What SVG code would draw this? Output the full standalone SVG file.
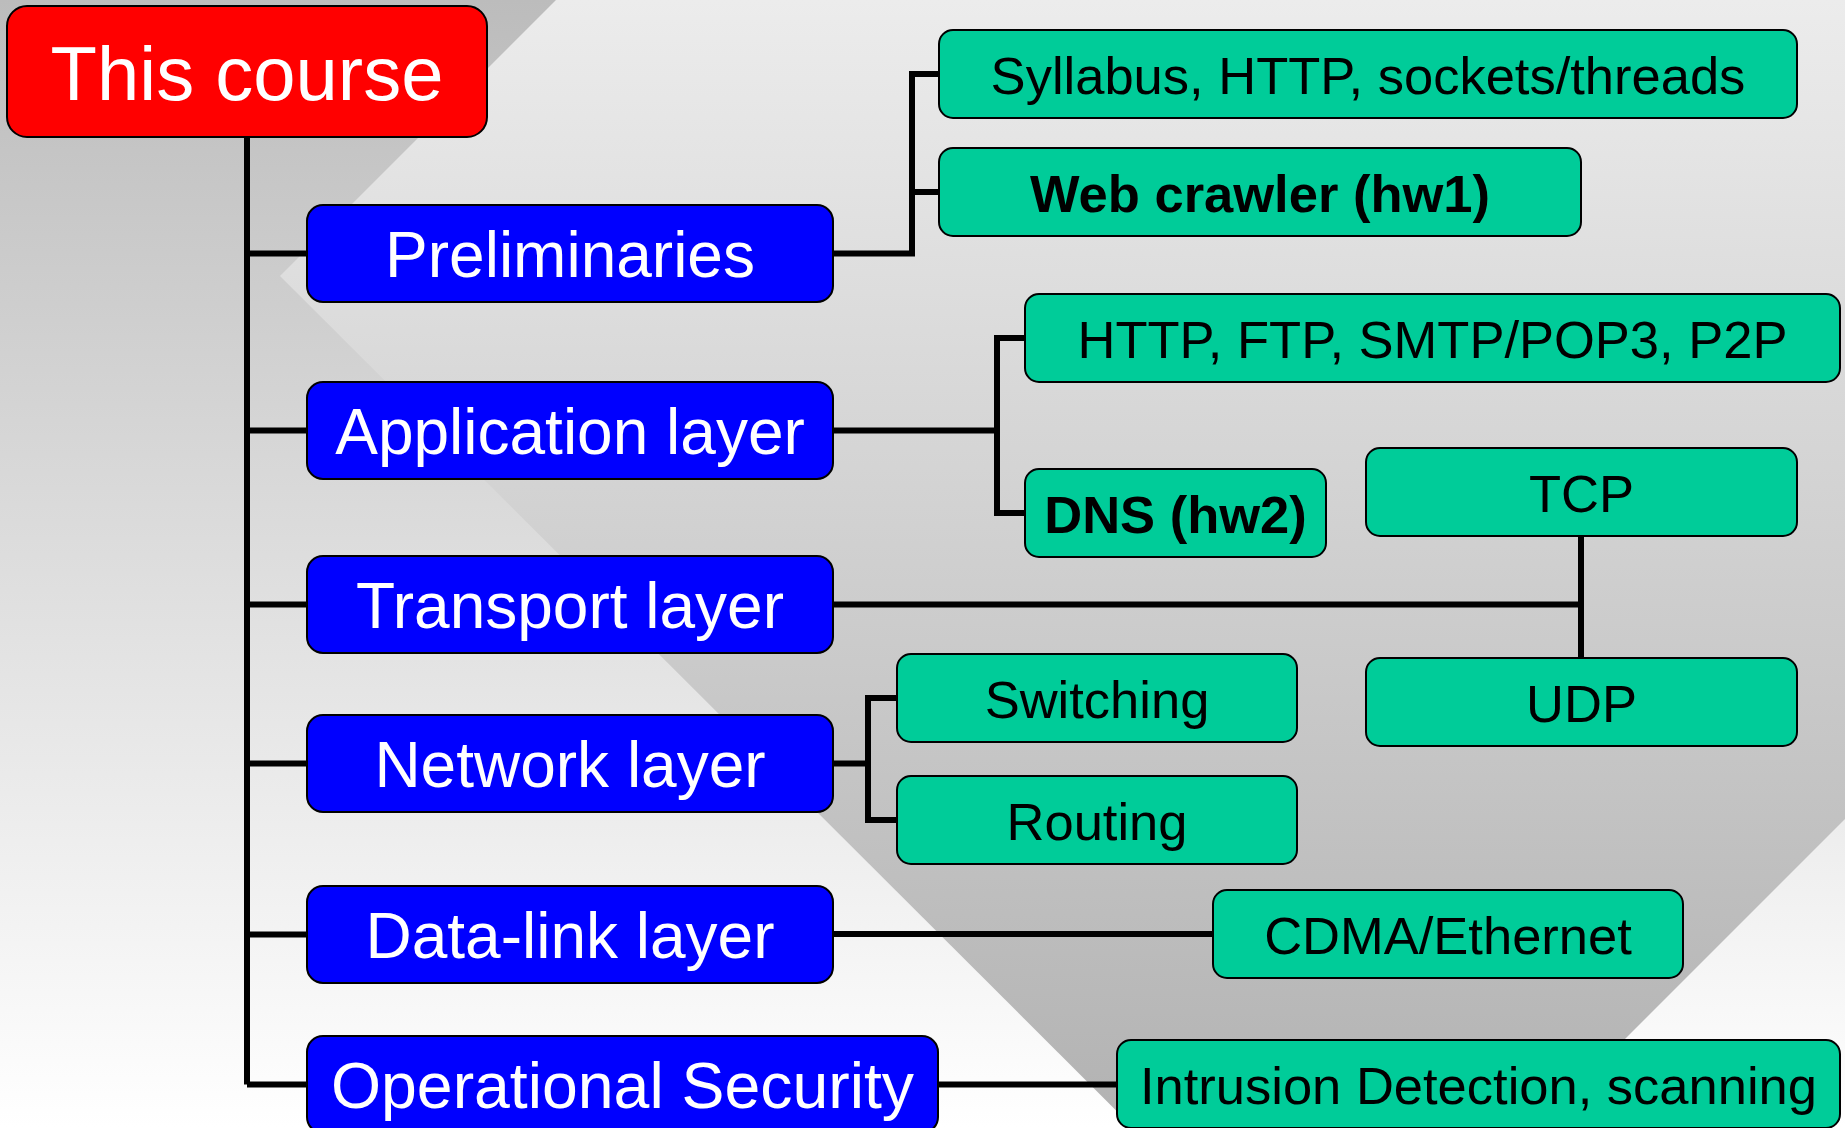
<svg xmlns="http://www.w3.org/2000/svg" width="1845" height="1128" viewBox="0 0 1845 1128">
<defs>
<linearGradient id="bg" x1="0" y1="0" x2="0" y2="1128" gradientUnits="userSpaceOnUse">
<stop offset="0" stop-color="#bcbcbc"/>
<stop offset="1" stop-color="#ffffff"/>
</linearGradient>
<linearGradient id="dia" x1="0" y1="0" x2="0" y2="1128" gradientUnits="userSpaceOnUse">
<stop offset="0" stop-color="#ececec"/>
<stop offset="1" stop-color="#b2b2b2"/>
</linearGradient>
<style>
.red{fill:#ff0000;stroke:#000;stroke-width:2}
.blue{fill:#0000ff;stroke:#000;stroke-width:2}
.green{fill:#00cc99;stroke:#000;stroke-width:2}
.t{font-family:"Liberation Sans",Arial,Helvetica,sans-serif;text-anchor:middle}
.tw{fill:#fff;font-size:64px}
.tb{fill:#000;font-size:52.5px}
.bold{font-weight:bold}
.conn{fill:none;stroke:#000;stroke-width:6;stroke-linejoin:miter;stroke-linecap:butt}
</style>
</defs>
<rect x="0" y="0" width="1845" height="1128" fill="url(#bg)"/>
<polygon points="280,276 1335,-779 2390,274 1335,1329" fill="url(#dia)"/>

<g id="connectors" class="conn">
<path d="M247 137 V1084.5"/>
<path d="M247 253.5 H307"/>
<path d="M247 430.5 H307"/>
<path d="M247 604.5 H307"/>
<path d="M247 763.5 H307"/>
<path d="M247 934.5 H307"/>
<path d="M247 1084.5 H307"/>
<path d="M833 253.5 H912 V74 H939"/>
<path d="M912 192 H939"/>
<path d="M833 430.5 H997"/>
<path d="M1025 338 H997 V513 H1025"/>
<path d="M833 604.5 H1581"/>
<path d="M1581 536 V658"/>
<path d="M833 763.5 H868"/>
<path d="M897 698 H868 V820 H897"/>
<path d="M833 934 H1213"/>
<path d="M938 1084.5 H1117"/>
</g>

<g id="this-course"><rect class="red" x="7" y="6" width="480" height="131" rx="20"/><text class="t" x="247" y="100" fill="#fff" font-size="76">This course</text></g>

<g id="preliminaries"><rect class="blue" x="307" y="205" width="526" height="97" rx="16"/><text class="t tw" x="570" y="276.5">Preliminaries</text></g>
<g id="application-layer"><rect class="blue" x="307" y="382" width="526" height="97" rx="16"/><text class="t tw" x="570" y="453.5">Application layer</text></g>
<g id="transport-layer"><rect class="blue" x="307" y="556" width="526" height="97" rx="16"/><text class="t tw" x="570" y="627.5">Transport layer</text></g>
<g id="network-layer"><rect class="blue" x="307" y="715" width="526" height="97" rx="16"/><text class="t tw" x="570" y="786.5">Network layer</text></g>
<g id="data-link-layer"><rect class="blue" x="307" y="886" width="526" height="97" rx="16"/><text class="t tw" x="570" y="957.5">Data-link layer</text></g>
<g id="operational-security"><rect class="blue" x="307" y="1036" width="631" height="97" rx="16"/><text class="t tw" x="622.5" y="1107.5" textLength="583" lengthAdjust="spacingAndGlyphs">Operational Security</text></g>

<g id="syllabus"><rect class="green" x="939" y="30" width="858" height="88" rx="14"/><text class="t tb" x="1368" y="93.5">Syllabus, HTTP, sockets/threads</text></g>
<g id="web-crawler"><rect class="green" x="939" y="148" width="642" height="88" rx="14"/><text class="t tb bold" x="1260" y="211.5">Web crawler (hw1)</text></g>
<g id="http-ftp"><rect class="green" x="1025" y="294" width="815" height="88" rx="14"/><text class="t tb" x="1432.5" y="357.5">HTTP, FTP, SMTP/POP3, P2P</text></g>
<g id="dns"><rect class="green" x="1025" y="469" width="301" height="88" rx="14"/><text class="t tb bold" x="1175.5" y="532.5">DNS (hw2)</text></g>
<g id="tcp"><rect class="green" x="1366" y="448" width="431" height="88" rx="14"/><text class="t tb" x="1581.5" y="511.5">TCP</text></g>
<g id="udp"><rect class="green" x="1366" y="658" width="431" height="88" rx="14"/><text class="t tb" x="1581.5" y="721.5">UDP</text></g>
<g id="switching"><rect class="green" x="897" y="654" width="400" height="88" rx="14"/><text class="t tb" x="1097" y="717.5">Switching</text></g>
<g id="routing"><rect class="green" x="897" y="776" width="400" height="88" rx="14"/><text class="t tb" x="1097" y="839.5">Routing</text></g>
<g id="cdma-ethernet"><rect class="green" x="1213" y="890" width="470" height="88" rx="14"/><text class="t tb" x="1448" y="953.5">CDMA/Ethernet</text></g>
<g id="intrusion-detection"><rect class="green" x="1117" y="1040" width="723" height="88" rx="14"/><text class="t tb" x="1478.5" y="1103.5">Intrusion Detection, scanning</text></g>
</svg>
